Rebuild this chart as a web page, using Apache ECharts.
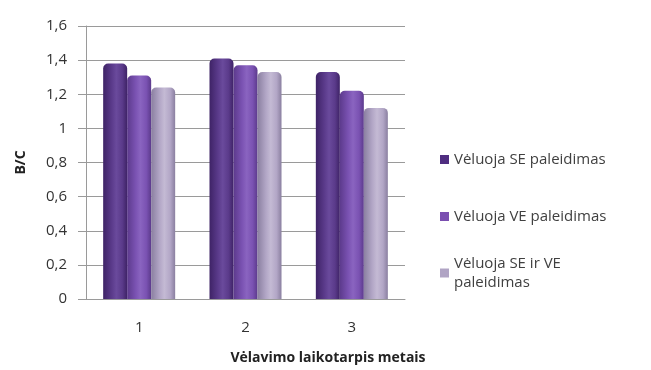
<!DOCTYPE html>
<html><head><meta charset="utf-8">
<script src="https://cdn.jsdelivr.net/npm/echarts@6/dist/echarts.min.js"></script>
<style>html,body{margin:0;padding:0;background:#fff}#c{width:651px;height:370px}</style>
</head><body><div id="c"></div>
<script>
const categories = ['1', '2', '3'];
const seriesNames = ['Vėluoja SE paleidimas', 'Vėluoja VE paleidimas', 'Vėluoja SE ir VE paleidimas'];
const seSeries = [1.38, 1.41, 1.33];
const veSeries = [1.31, 1.37, 1.22];
const bothSeries = [1.24, 1.33, 1.12];
const yTickLabels = {0: '0', 0.2: '0,2', 0.4: '0,4', 0.6: '0,6', 0.8: '0,8', 1: '1', 1.2: '1,2', 1.4: '1,4', 1.6: '1,6'};
const yAxisTitle = 'B/C';
const xAxisTitle = 'Vėlavimo laikotarpis metais';

function grad(dark, mid, light) {
  return new echarts.graphic.LinearGradient(0, 0, 1, 0, [
    {offset: 0, color: dark}, {offset: 0.35, color: mid}, {offset: 0.55, color: light},
    {offset: 0.8, color: mid}, {offset: 1, color: dark}
  ]);
}
const styles = [
  {fill: grad('#3e2366', '#5a3a8a', '#6a4a9c'), icon: '#4f2d80'},
  {fill: grad('#5c3a8c', '#7a52b2', '#8a64c0'), icon: '#7a4fb0'},
  {fill: grad('#8a7fa0', '#b2a6c6', '#c4bad4'), icon: '#b0a4c4'}
];
const data = [seSeries, veSeries, bothSeries];
const font = '"Open Sans", sans-serif';
const chart = echarts.init(document.getElementById('c'));
const legendTops = [145, 202, 249];
const legends = legendTops.map((top, i) => ({
  orient: 'vertical', left: 435, top: top, itemWidth: 9, itemHeight: 9,
  icon: 'rect', data: [{name: seriesNames[i], itemStyle: {color: styles[i].icon}}],
  formatter: n => i === 2 ? 'Vėluoja SE ir VE\npaleidimas' : n,
  textStyle: {fontFamily: font, fontSize: 15, color: '#404040', lineHeight: 19}
}));
chart.setOption({
  animation: false,
  legend: legends,
  grid: {left: 86, right: 246, top: 26, bottom: 69},
  xAxis: {
    type: 'category', data: categories,
    axisLine: {lineStyle: {color: '#9a9a9a'}},
    axisTick: {show: false},
    axisLabel: {fontFamily: font, fontSize: 15, color: '#333', margin: 21},
    name: xAxisTitle, nameLocation: 'middle', nameGap: 52,
    nameTextStyle: {fontFamily: font, fontSize: 14, fontWeight: 'bold', color: '#222', padding: [0, 0, 0, 165]}
  },
  yAxis: {
    type: 'value', min: 0, max: 1.6, interval: 0.2,
    axisLine: {show: true, lineStyle: {color: '#9a9a9a'}},
    axisTick: {show: true, inside: false, length: 8, lineStyle: {color: '#9a9a9a'}},
    splitLine: {lineStyle: {color: '#9a9a9a'}},
    axisLabel: {fontFamily: font, fontSize: 15, color: '#333', margin: 19,
      formatter: v => yTickLabels[Math.round(v * 10) / 10]},
    name: yAxisTitle, nameLocation: 'middle', nameGap: 58, nameRotate: 90,
    nameTextStyle: {fontFamily: font, fontSize: 14, fontWeight: 'bold', color: '#222'}
  },
  series: data.map((d, i) => ({
    name: seriesNames[i], type: 'bar', data: d, barWidth: 24, barGap: '0%',
    itemStyle: {color: styles[i].fill, borderRadius: [5, 5, 0, 0]}
  }))
});
</script></body></html>
